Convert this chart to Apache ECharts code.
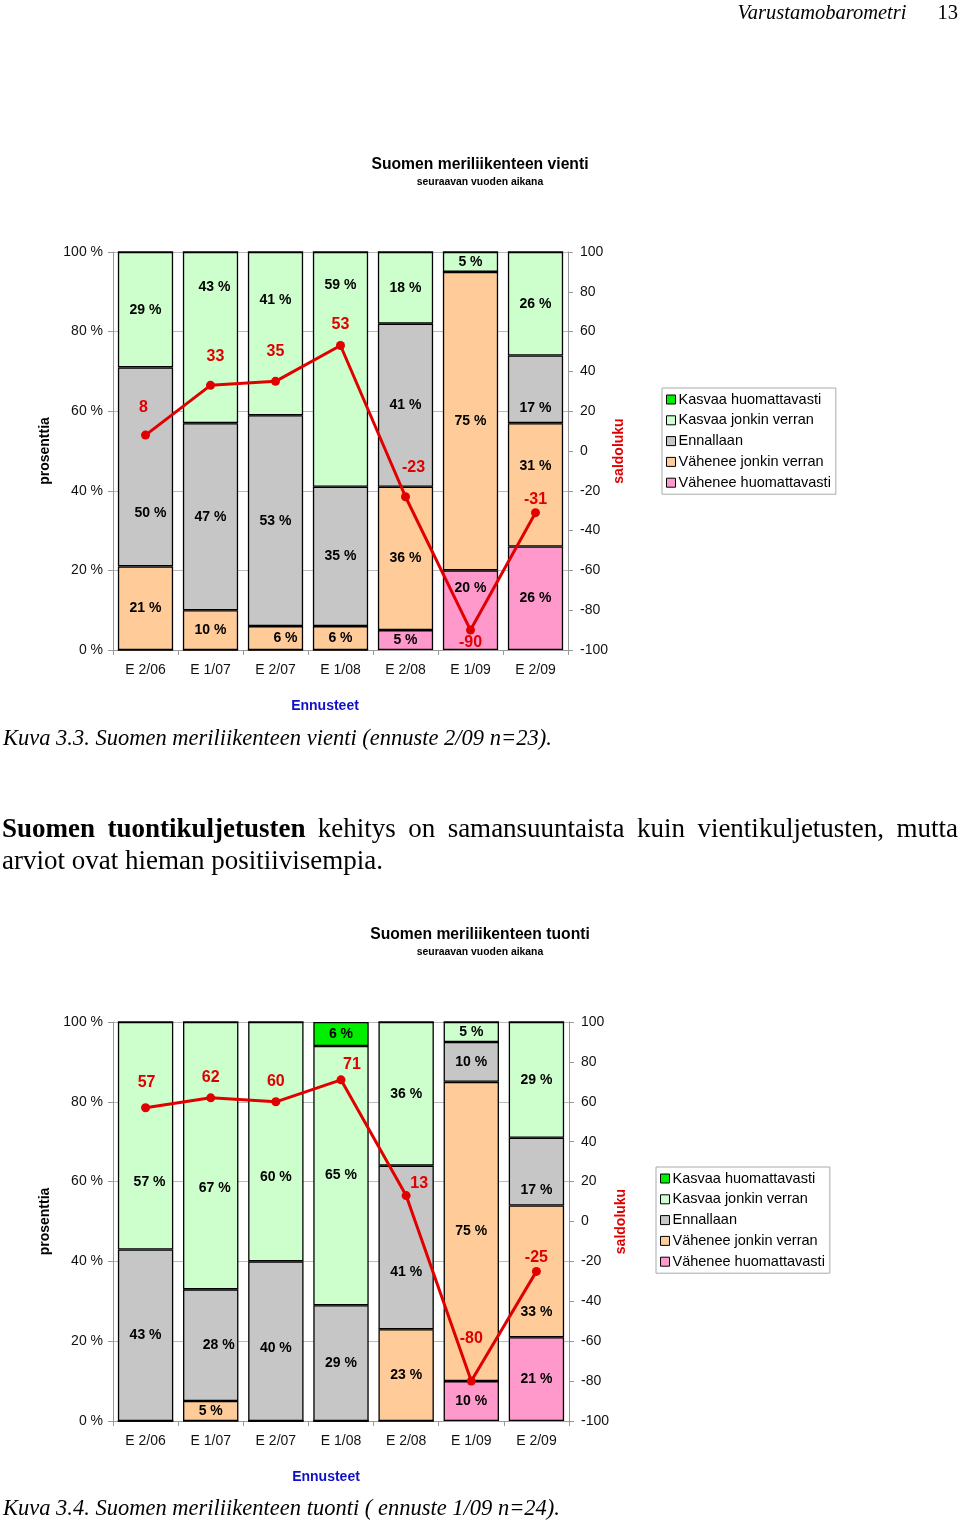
<!DOCTYPE html>
<html>
<head>
<meta charset="utf-8">
<script src="https://cdn.jsdelivr.net/npm/echarts@6/dist/echarts.min.js"></script>
<style>
  html, body { margin:0; padding:0; background:#fff; }
  body { width:960px; height:1522px; position:relative; overflow:hidden; }
  #chart { position:absolute; left:0; top:0; width:960px; height:1522px; }
  .serif { position:absolute; font-family:"Liberation Serif","Times New Roman",serif; color:#000; white-space:nowrap; }
</style>
</head>
<body>
<div id="chart"></div>

<div class="serif" style="top:0;right:2px;font-size:20.5px;line-height:24px;"><i>Varustamobarometri</i><span style="margin-left:31px;">13</span></div>
<div class="serif" style="top:725px;left:3px;font-size:22.5px;line-height:26px;font-style:italic;">Kuva 3.3. Suomen meriliikenteen vienti (ennuste 2/09 n=23).</div>
<div class="serif" style="top:812px;left:2px;width:956px;font-size:27px;line-height:32px;text-align:justify;text-align-last:justify;"><b>Suomen tuontikuljetusten</b> kehitys on samansuuntaista kuin vientikuljetusten, mutta</div>
<div class="serif" style="top:844px;left:2px;font-size:27px;line-height:32px;">arviot ovat hieman positiivisempia.</div>
<div class="serif" style="top:1495px;left:3px;font-size:22.5px;line-height:26px;font-style:italic;">Kuva 3.4. Suomen meriliikenteen tuonti ( ennuste 1/09 n=24).</div>

<script>
// ---------- DATA ----------
const categories = ['E 2/06', 'E 1/07', 'E 2/07', 'E 1/08', 'E 2/08', 'E 1/09', 'E 2/09'];
const seriesNames = ['Kasvaa huomattavasti', 'Kasvaa jonkin verran', 'Ennallaan', 'Vähenee jonkin verran', 'Vähenee huomattavasti'];
const percentTicks = [0, 20, 40, 60, 80, 100];
const saldoTicks = [-100, -80, -60, -40, -20, 0, 20, 40, 60, 80, 100];

// Chart 1: Suomen meriliikenteen vienti
const vientiKasvaaHuom   = [0, 0, 0, 0, 0, 0, 0];
const vientiKasvaaJonkin = [29, 43, 41, 59, 18, 5, 26];
const vientiEnnallaan    = [50, 47, 53, 35, 41, 0, 17];
const vientiVaheneeJonkin= [21, 10, 6, 6, 36, 75, 31];
const vientiVaheneeHuom  = [0, 0, 0, 0, 5, 20, 26];
const vientiSaldo        = [8, 33, 35, 53, -23, -90, -31];

// Chart 2: Suomen meriliikenteen tuonti
const tuontiKasvaaHuom   = [0, 0, 0, 6, 0, 0, 0];
const tuontiKasvaaJonkin = [57, 67, 60, 65, 36, 5, 29];
const tuontiEnnallaan    = [43, 28, 40, 29, 41, 10, 17];
const tuontiVaheneeJonkin= [0, 5, 0, 0, 23, 75, 33];
const tuontiVaheneeHuom  = [0, 0, 0, 0, 0, 10, 21];
const tuontiSaldo        = [57, 62, 60, 71, 13, -80, -25];

// ---------- STYLE ----------
const SANS = '"Liberation Sans", Arial, Helvetica, sans-serif';
const colors = {
  'Kasvaa huomattavasti': '#00EE00',
  'Kasvaa jonkin verran': '#CCFFCC',
  'Ennallaan': '#C6C6C6',
  'Vähenee jonkin verran': '#FFCC99',
  'Vähenee huomattavasti': '#FF99CC'
};
const RED = '#E00000';

// label nudges (pixels) to mimic the hand-placed labels of the original
const vientiLabelNudge = {
  'Ennallaan': {0: [5, 46], 6: [0, 19]},
  'Kasvaa jonkin verran': {1: [4, -50], 2: [0, -33], 3: [0, -84]},
  'Vähenee jonkin verran': {2: [10, 0], 6: [0, -19]},
  'Vähenee huomattavasti': {5: [0, -22]}
};
const vientiSaldoNudge = [[-2, -27], [5, -29], [0, -30], [0, -21], [8, -29], [0, 12], [0, -13]];
const tuontiLabelNudge = {
  'Kasvaa jonkin verran': {0: [4, 46], 1: [4, 32], 2: [0, 35]},
  'Ennallaan': {1: [8, 0], 2: [0, 7], 4: [0, 25], 6: [0, 19]},
  'Vähenee jonkin verran': {6: [0, 41]}
};
const tuontiSaldoNudge = [[1, -25], [0, -20], [0, -20], [11, -15], [13, -12], [0, -43], [0, -14]];

const layouts = [
  {grid: {left: 113, top: 252, width: 455, height: 398}, legend: {left: 662, top: 388},
   titleTop: 157, ennTop: 698, ennX: 325, saldoGap: 33},
  {grid: {left: 113, top: 1022, width: 456, height: 399}, legend: {left: 656, top: 1167},
   titleTop: 927, ennTop: 1469, ennX: 326, saldoGap: 45}
];

const charts = [
  {title: 'Suomen meriliikenteen vienti',
   stacks: {'Kasvaa huomattavasti': vientiKasvaaHuom, 'Kasvaa jonkin verran': vientiKasvaaJonkin,
            'Ennallaan': vientiEnnallaan, 'Vähenee jonkin verran': vientiVaheneeJonkin,
            'Vähenee huomattavasti': vientiVaheneeHuom},
   saldo: vientiSaldo, nudge: vientiLabelNudge, saldoNudge: vientiSaldoNudge},
  {title: 'Suomen meriliikenteen tuonti',
   stacks: {'Kasvaa huomattavasti': tuontiKasvaaHuom, 'Kasvaa jonkin verran': tuontiKasvaaJonkin,
            'Ennallaan': tuontiEnnallaan, 'Vähenee jonkin verran': tuontiVaheneeJonkin,
            'Vähenee huomattavasti': tuontiVaheneeHuom},
   saldo: tuontiSaldo, nudge: tuontiLabelNudge, saldoNudge: tuontiSaldoNudge}
];

// ---------- OPTION ----------
const option = {
  animation: false,
  backgroundColor: '#fff',
  textStyle: {fontFamily: SANS},
  title: [], legend: [], grid: [], xAxis: [], yAxis: [], series: []
};

charts.forEach((c, k) => {
  const L = layouts[k];
  option.title.push({
    text: c.title, subtext: 'seuraavan vuoden aikana',
    left: 'center', top: L.titleTop, padding: 0, itemGap: 3,
    textStyle: {fontFamily: SANS, fontSize: 15.7, fontWeight: 'bold', color: '#000', lineHeight: 16},
    subtextStyle: {fontFamily: SANS, fontSize: 10.4, fontWeight: 'bold', color: '#000', lineHeight: 12}
  });
  option.title.push({
    text: 'Ennusteet', left: L.ennX, textAlign: 'center', top: L.ennTop, padding: 0,
    textStyle: {fontFamily: SANS, fontSize: 14, fontWeight: 'bold', color: '#1010C8', lineHeight: 16}
  });
  option.grid.push(Object.assign({containLabel: false}, L.grid));
  option.legend.push({
    data: seriesNames, orient: 'vertical', left: L.legend.left, top: L.legend.top,
    icon: 'rect', itemWidth: 9, itemHeight: 9, itemGap: 5.8, padding: [4, 5, 4, 4],
    borderColor: '#aaa', borderWidth: 1, backgroundColor: '#fff', selectedMode: false,
    itemStyle: {borderColor: '#000', borderWidth: 1},
    textStyle: {fontFamily: SANS, fontSize: 14.5, color: '#000', lineHeight: 14, padding: [0, 0, 0, -2]}
  });
  option.xAxis.push({
    type: 'category', gridIndex: k, data: categories,
    axisLine: {show: true, lineStyle: {color: '#999', width: 1}},
    axisTick: {show: true, length: 5, lineStyle: {color: '#999'}},
    axisLabel: {color: '#111', fontSize: 14, margin: 13, fontFamily: SANS},
    splitLine: {show: false}
  });
  option.yAxis.push({
    type: 'value', gridIndex: k, min: percentTicks[0], max: percentTicks[percentTicks.length - 1],
    interval: percentTicks[1] - percentTicks[0],
    name: 'prosenttia', nameLocation: 'middle', nameGap: 61, nameRotate: 90,
    nameTextStyle: {fontFamily: SANS, fontSize: 14, fontWeight: 'bold', color: '#000'},
    axisLine: {show: true, lineStyle: {color: '#999', width: 1}},
    axisTick: {show: true, length: 5, lineStyle: {color: '#999'}},
    axisLabel: {color: '#111', fontSize: 14, margin: 10, formatter: '{value} %', fontFamily: SANS},
    splitLine: {show: true, lineStyle: {color: '#bbb', width: 1}}
  });
  option.yAxis.push({
    type: 'value', gridIndex: k, position: 'right',
    min: saldoTicks[0], max: saldoTicks[saldoTicks.length - 1], interval: saldoTicks[1] - saldoTicks[0],
    name: 'saldoluku', nameLocation: 'middle', nameGap: L.saldoGap, nameRotate: 90,
    nameTextStyle: {fontFamily: SANS, fontSize: 14, fontWeight: 'bold', color: RED},
    axisLine: {show: true, onZero: false, lineStyle: {color: '#999', width: 1}},
    axisTick: {show: true, length: 5, lineStyle: {color: '#999'}},
    axisLabel: {color: '#111', fontSize: 14, margin: 12, fontFamily: SANS},
    splitLine: {show: false}
  });

  // stacked bars from bottom to top
  const order = seriesNames.slice().reverse();
  order.forEach(name => {
    const vals = c.stacks[name];
    const nudge = c.nudge[name] || {};
    option.series.push({
      type: 'bar', name: name, stack: 'pct' + k,
      xAxisIndex: k, yAxisIndex: 2 * k,
      barCategoryGap: '15%',
      itemStyle: {color: colors[name], borderColor: '#000', borderWidth: 1.3},
      label: {
        show: true, position: 'inside', color: '#000', fontSize: 14, fontWeight: 'bold',
        fontFamily: SANS,
        formatter: p => (p.value ? p.value + ' %' : '')
      },
      emphasis: {disabled: true},
      data: vals.map((v, i) => nudge[i] ? {value: v, label: {offset: nudge[i]}} : v),
      z: 2
    });
  });

  option.series.push({
    type: 'line', name: 'saldoluku', xAxisIndex: k, yAxisIndex: 2 * k + 1,
    symbol: 'circle', symbolSize: 9,
    lineStyle: {color: RED, width: 3}, itemStyle: {color: RED},
    label: {show: true, position: 'inside', color: RED, fontSize: 16, fontWeight: 'bold', fontFamily: SANS},
    emphasis: {disabled: true},
    data: c.saldo.map((v, i) => ({value: v, label: {offset: c.saldoNudge[i]}})),
    z: 5
  });
});

const chart = echarts.init(document.getElementById('chart'));
chart.setOption(option);
</script>
</body>
</html>
